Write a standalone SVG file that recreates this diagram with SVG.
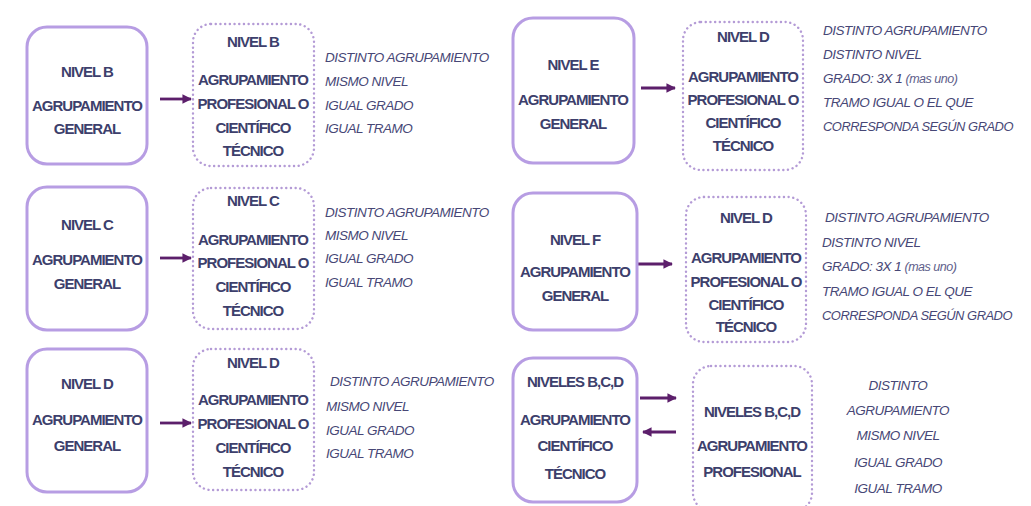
<svg xmlns="http://www.w3.org/2000/svg" width="1031" height="506" viewBox="0 0 1031 506">
<defs>
<marker id="ah" viewBox="0 0 10 10" refX="9" refY="5" markerWidth="3.4" markerHeight="3.4" orient="auto" markerUnits="strokeWidth">
<path d="M0,0 L10,5 L0,10 z" fill="#5c1f6b"/>
</marker>
<style>
.solid{fill:#ffffff;stroke:#b79de3;stroke-width:3}
.dot{fill:#ffffff;stroke:#b49bd6;stroke-width:2.4;stroke-dasharray:0.1 4.6;stroke-linecap:round}
.b{font-family:"Liberation Sans",Arial,sans-serif;font-weight:bold;font-size:15px;letter-spacing:-1px;fill:#3d3f6c;text-anchor:middle}
.i{font-family:"Liberation Sans",Arial,sans-serif;font-style:italic;font-size:13.5px;letter-spacing:-0.5px;fill:#474776}
.ic{text-anchor:middle}
.sm{font-size:12.5px;fill:#5e5e8a}
.con{stroke:#5c1f6b;stroke-width:2.8;fill:none;marker-end:url(#ah)}
</style>
</defs>
<rect width="1031" height="506" fill="#ffffff"/>

<g id="connectors">
<line class="con" x1="160" y1="99" x2="191" y2="99"/>
<line class="con" x1="160" y1="258" x2="191" y2="258"/>
<line class="con" x1="160" y1="423" x2="191" y2="423"/>
<line class="con" x1="641" y1="88" x2="675" y2="88"/>
<line class="con" x1="637" y1="264" x2="672" y2="264"/>
<line class="con" x1="640" y1="398" x2="676" y2="398"/>
<line class="con" x1="676" y1="432" x2="643" y2="432"/>
</g>

<!-- Left row 1 -->
<g id="nB">
<rect class="solid" x="27" y="27" width="120" height="137" rx="20"/>
<text class="b" x="87" y="77">NIVEL B</text>
<text class="b" x="87" y="111">AGRUPAMIENTO</text>
<text class="b" x="87" y="134">GENERAL</text>
</g>
<g id="nB2">
<rect class="dot" x="193" y="24" width="121" height="142" rx="18"/>
<text class="b" x="253" y="47">NIVEL B</text>
<text class="b" x="253" y="85">AGRUPAMIENTO</text>
<text class="b" x="253" y="109">PROFESIONAL O</text>
<text class="b" x="253" y="133">CIENTÍFICO</text>
<text class="b" x="253" y="156">TÉCNICO</text>
</g>
<g id="tB">
<text class="i" x="325" y="62">DISTINTO AGRUPAMIENTO</text>
<text class="i" x="325" y="86">MISMO NIVEL</text>
<text class="i" x="325" y="110">IGUAL GRADO</text>
<text class="i" x="325" y="133">IGUAL TRAMO</text>
</g>

<!-- Left row 2 -->
<g id="nC">
<rect class="solid" x="27" y="187" width="120" height="143" rx="20"/>
<text class="b" x="87" y="230">NIVEL C</text>
<text class="b" x="87" y="265">AGRUPAMIENTO</text>
<text class="b" x="87" y="289">GENERAL</text>
</g>
<g id="nC2">
<rect class="dot" x="193" y="188" width="121" height="141" rx="18"/>
<text class="b" x="253" y="206">NIVEL C</text>
<text class="b" x="253" y="245">AGRUPAMIENTO</text>
<text class="b" x="253" y="268">PROFESIONAL O</text>
<text class="b" x="253" y="292">CIENTÍFICO</text>
<text class="b" x="253" y="316">TÉCNICO</text>
</g>
<g id="tC">
<text class="i" x="325" y="217">DISTINTO AGRUPAMIENTO</text>
<text class="i" x="325" y="240">MISMO NIVEL</text>
<text class="i" x="325" y="263">IGUAL GRADO</text>
<text class="i" x="325" y="287">IGUAL TRAMO</text>
</g>

<!-- Left row 3 -->
<g id="nD">
<rect class="solid" x="27" y="349" width="120" height="143" rx="20"/>
<text class="b" x="87" y="389">NIVEL D</text>
<text class="b" x="87" y="425">AGRUPAMIENTO</text>
<text class="b" x="87" y="451">GENERAL</text>
</g>
<g id="nD2">
<rect class="dot" x="193" y="349" width="121" height="141" rx="18"/>
<text class="b" x="253" y="368">NIVEL D</text>
<text class="b" x="253" y="405">AGRUPAMIENTO</text>
<text class="b" x="253" y="429">PROFESIONAL O</text>
<text class="b" x="253" y="453">CIENTÍFICO</text>
<text class="b" x="253" y="477">TÉCNICO</text>
</g>
<g id="tD">
<text class="i" x="330" y="386">DISTINTO AGRUPAMIENTO</text>
<text class="i" x="326" y="411">MISMO NIVEL</text>
<text class="i" x="326" y="435">IGUAL GRADO</text>
<text class="i" x="326" y="458">IGUAL TRAMO</text>
</g>

<!-- Right row 1 -->
<g id="nE">
<rect class="solid" x="513" y="18" width="121" height="145" rx="20"/>
<text class="b" x="573" y="70">NIVEL E</text>
<text class="b" x="573" y="105">AGRUPAMIENTO</text>
<text class="b" x="573" y="129">GENERAL</text>
</g>
<g id="nE2">
<rect class="dot" x="683" y="22" width="120" height="148" rx="18"/>
<text class="b" x="743" y="42">NIVEL D</text>
<text class="b" x="743" y="82">AGRUPAMIENTO</text>
<text class="b" x="743" y="105">PROFESIONAL O</text>
<text class="b" x="743" y="128">CIENTÍFICO</text>
<text class="b" x="743" y="151">TÉCNICO</text>
</g>
<g id="tE">
<text class="i" x="823" y="35">DISTINTO AGRUPAMIENTO</text>
<text class="i" x="823" y="59">DISTINTO NIVEL</text>
<text class="i" x="823" y="83">GRADO: 3X 1 <tspan class="sm">(mas uno)</tspan></text>
<text class="i" x="823" y="107">TRAMO IGUAL O EL QUE</text>
<text class="i" x="823" y="131" textLength="190" lengthAdjust="spacingAndGlyphs">CORRESPONDA SEGÚN GRADO</text>
</g>

<!-- Right row 2 -->
<g id="nF">
<rect class="solid" x="513" y="193" width="124" height="137" rx="20"/>
<text class="b" x="575" y="245">NIVEL F</text>
<text class="b" x="575" y="277">AGRUPAMIENTO</text>
<text class="b" x="575" y="301">GENERAL</text>
</g>
<g id="nF2">
<rect class="dot" x="686" y="197" width="120" height="145" rx="18"/>
<text class="b" x="746" y="223">NIVEL D</text>
<text class="b" x="746" y="263">AGRUPAMIENTO</text>
<text class="b" x="746" y="287">PROFESIONAL O</text>
<text class="b" x="746" y="310">CIENTÍFICO</text>
<text class="b" x="746" y="332">TÉCNICO</text>
</g>
<g id="tF">
<text class="i" x="825" y="222">DISTINTO AGRUPAMIENTO</text>
<text class="i" x="822" y="247">DISTINTO NIVEL</text>
<text class="i" x="822" y="271">GRADO: 3X 1 <tspan class="sm">(mas uno)</tspan></text>
<text class="i" x="822" y="296">TRAMO IGUAL O EL QUE</text>
<text class="i" x="822" y="320" textLength="190" lengthAdjust="spacingAndGlyphs">CORRESPONDA SEGÚN GRADO</text>
</g>

<!-- Right row 3 -->
<g id="nBCD">
<rect class="solid" x="513" y="358" width="124" height="144" rx="20"/>
<text class="b" x="575" y="387">NIVELES B,C,D</text>
<text class="b" x="575" y="425">AGRUPAMIENTO</text>
<text class="b" x="575" y="451">CIENTÍFICO</text>
<text class="b" x="575" y="479">TÉCNICO</text>
</g>
<g id="nBCD2">
<rect class="dot" x="693" y="366" width="119" height="145" rx="18"/>
<text class="b" x="752" y="417">NIVELES B,C,D</text>
<text class="b" x="752" y="451">AGRUPAMIENTO</text>
<text class="b" x="752" y="477">PROFESIONAL</text>
</g>
<g id="tBCD">
<text class="i ic" x="898" y="390">DISTINTO</text>
<text class="i ic" x="898" y="415">AGRUPAMIENTO</text>
<text class="i ic" x="898" y="440">MISMO NIVEL</text>
<text class="i ic" x="898" y="467">IGUAL GRADO</text>
<text class="i ic" x="898" y="493">IGUAL TRAMO</text>
</g>
</svg>
